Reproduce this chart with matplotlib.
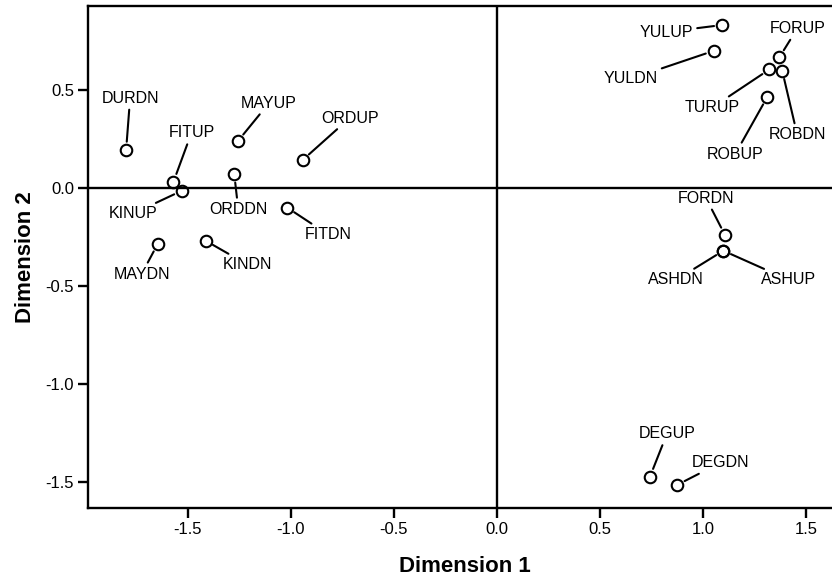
import matplotlib
matplotlib.use("Agg")
import matplotlib.pyplot as plt

# ---- data ----
names = ["DURDN", "FITUP", "KINUP", "MAYUP", "ORDDN", "ORDUP", "FITDN", "MAYDN", "KINDN",
         "YULUP", "YULDN", "FORUP", "TURUP", "ROBDN", "ROBUP", "FORDN", "ASHDN", "ASHUP",
         "DEGUP", "DEGDN"]
dim1 = [-1.80, -1.57, -1.53, -1.257, -1.275, -0.943, -1.018, -1.647, -1.414,
        1.094, 1.052, 1.371, 1.322, 1.385, 1.312, 1.107, 1.099, 1.099,
        0.743, 0.875]
dim2 = [0.194, 0.032, -0.014, 0.24, 0.07, 0.143, -0.10, -0.286, -0.269,
        0.832, 0.70, 0.667, 0.605, 0.598, 0.464, -0.24, -0.32, -0.32,
        -1.473, -1.515]
xticks = [-1.5, -1.0, -0.5, 0.0, 0.5, 1.0, 1.5]
yticks = [-1.5, -1.0, -0.5, 0.0, 0.5]

# label offsets (pixels, layout only)
label_dx = [4, 18, -49, 31, 4, 47, 41, -16, 42, -56, -83, 18, -57, 15, -32, -19, -47, 65, 17, 43]
label_dy = [52, 49, -23, 38, -35, 42, -27, -30, -24, -7, -28, 29, -38, -64, -57, 37, -29, -29, 43, 22]

plt.rcParams['font.family'] = ['Liberation Sans', 'DejaVu Sans']

fig = plt.figure(figsize=(8.32, 5.86), dpi=100)
W, H = 832, 586
ax = fig.add_axes([88 / W, (H - 508) / H, (842 - 88) / W, (508 - 6) / H])

ax.set_xlim(-1.985, 1.675)
ax.set_ylim(-1.633, 0.929)

ax.axhline(0, color='black', lw=1.7, zorder=1)
ax.axvline(0, color='black', lw=1.7, zorder=1)

ax.plot(dim1, dim2, linestyle='none', marker='o', markersize=8.3,
        markerfacecolor='none', markeredgecolor='black', markeredgewidth=1.5, zorder=3)

for n, x, y, dx, dy in zip(names, dim1, dim2, label_dx, label_dy):
    ax.annotate(n, xy=(x, y), xytext=(dx, dy), textcoords='offset pixels',
                ha='center', va='center', fontsize=11.5, color='black',
                arrowprops=dict(arrowstyle='-', color='black', lw=1.5,
                                shrinkA=1, shrinkB=6))

ax.set_xticks(xticks)
ax.set_xticklabels([f"{t:.1f}" for t in xticks])
ax.set_yticks(yticks)
ax.set_yticklabels([f"{t:.1f}" for t in yticks])
ax.tick_params(direction='out', length=7, width=1.7, labelsize=12, pad=3, colors='black')

for s in ax.spines.values():
    s.set_linewidth(1.7)
    s.set_color('black')

ax.set_xlabel("Dimension 1", fontsize=16, fontweight='bold', labelpad=14)
ax.set_ylabel("Dimension 2", fontsize=16, fontweight='bold', labelpad=7)

fig.savefig("out.png", dpi=100)
